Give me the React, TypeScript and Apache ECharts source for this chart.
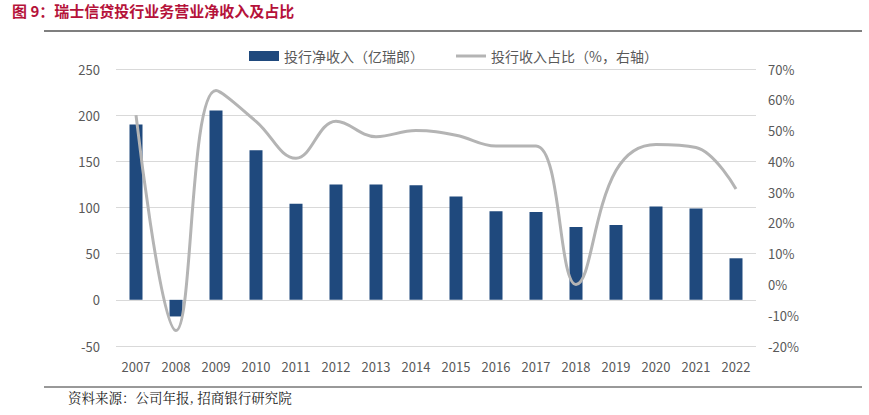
import React, { useEffect, useRef } from "react";
import * as echarts from "echarts";

const years = ["2007","2008","2009","2010","2011","2012","2013","2014","2015","2016","2017","2018","2019","2020","2021","2022"];
const netRevenue = [190, -18, 205, 162, 104, 125, 125, 124, 112, 96, 95, 79, 81, 101, 99, 45];
const sharePct = [55, -15, 63, 53, 41, 53, 48, 50, 48.5, 45, 45, 0, 37, 45.5, 44.5, 31];
const leftTicks = { min: -50, max: 250, interval: 50 };
const rightTicks = { min: -20, max: 70, interval: 10 };

const FONT = "'Noto Sans CJK SC', 'Noto Sans', sans-serif";

export default function App() {
  const ref = useRef<HTMLDivElement>(null);
  useEffect(() => {
    if (!ref.current) return;
    const chart = echarts.init(ref.current, null, { renderer: "svg" });
    chart.setOption({
      animation: false,
      backgroundColor: "#ffffff",
      textStyle: { fontFamily: FONT },
      graphic: [
        {
          type: "text",
          left: 12,
          top: 3,
          style: {
            text: "图 9：瑞士信贷投行业务营业净收入及占比",
            fontSize: 15,
            fontWeight: "bold",
            fill: "#B5123A",
            fontFamily: FONT,
          },
        },
        { type: "line", shape: { x1: 44, y1: 31, x2: 862, y2: 31 }, style: { stroke: "#555555", lineWidth: 1.5 } },
        { type: "line", shape: { x1: 44, y1: 387, x2: 862, y2: 387 }, style: { stroke: "#333333", lineWidth: 1 } },
        {
          type: "text",
          left: 68,
          top: 390,
          style: {
            text: "资料来源：公司年报, 招商银行研究院",
            fontSize: 13.5,
            fill: "#222222",
            fontFamily: "'Noto Serif CJK SC', 'Noto Sans CJK SC', serif",
          },
        },
      ],
      legend: {
        top: 44,
        left: 244,
        itemWidth: 30,
        itemHeight: 10,
        itemGap: 32,
        textStyle: { fontSize: 14, color: "#595959", fontFamily: FONT },
        data: [
          { name: "投行净收入（亿瑞郎）", icon: "rect" },
          { name: "投行收入占比（%，右轴）", icon: "path://M0,0 L30,0 L30,3 L0,3 Z" },
        ],
      },
      grid: { left: 116, right: 113, top: 69, bottom: 69, containLabel: false },
      xAxis: {
        type: "category",
        data: years,
        axisLine: { show: false, onZero: false },
        axisTick: { show: false },
        axisLabel: { color: "#595959", fontSize: 13, margin: 14 },
      },
      yAxis: [
        {
          type: "value",
          min: leftTicks.min,
          max: leftTicks.max,
          interval: leftTicks.interval,
          axisLine: { show: false },
          axisTick: { show: false },
          axisLabel: { color: "#595959", fontSize: 13, margin: 16 },
          splitLine: { lineStyle: { color: "#D9D9D9", width: 1 } },
        },
        {
          type: "value",
          min: rightTicks.min,
          max: rightTicks.max,
          interval: rightTicks.interval,
          axisLine: { show: false },
          axisTick: { show: false },
          axisLabel: { color: "#595959", fontSize: 13, margin: 12, formatter: "{value}%" },
          splitLine: { show: false },
        },
      ],
      series: [
        {
          name: "投行净收入（亿瑞郎）",
          type: "bar",
          data: netRevenue,
          barWidth: 13,
          itemStyle: { color: "#1F497D" },
        },
        {
          name: "投行收入占比（%，右轴）",
          type: "line",
          yAxisIndex: 1,
          data: sharePct,
          smooth: 0.4,
          symbol: "none",
          lineStyle: { color: "#B4B4B4", width: 3 },
          itemStyle: { color: "#B4B4B4" },
        },
      ],
    });
    return () => chart.dispose();
  }, []);
  return <div ref={ref} style={{ width: 869, height: 415, position: "absolute", left: 0, top: 0 }} />;
}
